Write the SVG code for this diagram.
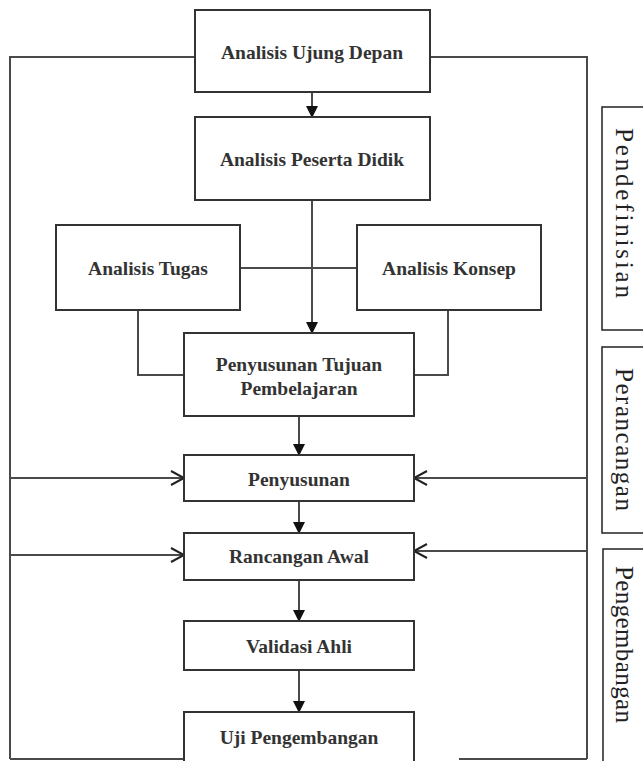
<svg xmlns="http://www.w3.org/2000/svg" width="643" height="761" viewBox="0 0 643 761">
<style>
.box{fill:#fff;stroke:#333;stroke-width:2}
.lbl{font-family:"Liberation Serif","Times New Roman",serif;font-weight:bold;font-size:19.5px;fill:#333;text-anchor:middle}
.side{font-family:"Liberation Serif","Times New Roman",serif;font-size:25px;fill:#222}
.sbox{fill:#fff;stroke:#222;stroke-width:1.5}
.c{fill:none;stroke:#4a4a4a;stroke-width:2}
</style>
<defs>
<marker id="tri" markerUnits="userSpaceOnUse" markerWidth="12" markerHeight="12" viewBox="0 0 12 12" refX="11" refY="6" orient="auto">
<path d="M0,0 L12,6 L0,12 z" fill="#111"/>
</marker>
<marker id="chev" markerUnits="userSpaceOnUse" markerWidth="18" markerHeight="18" viewBox="0 0 18 18" refX="15" refY="9" orient="auto">
<path d="M2,2 L15,9 L2,16" fill="none" stroke="#222" stroke-width="2"/>
</marker>
</defs>
<rect width="643" height="761" fill="#fff"/>
<g id="connectors">
<polyline class="c" points="195,57 10,57 10,759"/>
<polyline class="c" points="430,57 587,57 587,759"/>
<line class="c" x1="10" y1="759" x2="184" y2="759"/>
<line class="c" x1="459" y1="759" x2="587" y2="759"/>
<line class="c" x1="312" y1="92" x2="312" y2="117" marker-end="url(#tri)"/>
<line class="c" x1="312" y1="200" x2="312" y2="333" marker-end="url(#tri)"/>
<line class="c" x1="240" y1="268" x2="357" y2="268"/>
<polyline class="c" points="138,310 138,375 184,375"/>
<polyline class="c" points="448,310 448,375 414,375"/>
<line class="c" x1="299" y1="416" x2="299" y2="455" marker-end="url(#tri)"/>
<line class="c" x1="299" y1="501" x2="299" y2="533" marker-end="url(#tri)"/>
<line class="c" x1="299" y1="580" x2="299" y2="621" marker-end="url(#tri)"/>
<line class="c" x1="299" y1="670" x2="299" y2="712" marker-end="url(#tri)"/>
<line class="c" x1="10" y1="478" x2="184" y2="478" marker-end="url(#chev)"/>
<line class="c" x1="10" y1="555" x2="184" y2="555" marker-end="url(#chev)"/>
<line class="c" x1="587" y1="478" x2="414" y2="478" marker-end="url(#chev)"/>
<line class="c" x1="587" y1="551" x2="414" y2="551" marker-end="url(#chev)"/>
</g>
<g id="n1"><rect class="box" x="195" y="10" width="235" height="82"/><text class="lbl" x="312" y="59">Analisis Ujung Depan</text></g>
<g id="n2"><rect class="box" x="195" y="117" width="235" height="83"/><text class="lbl" x="312" y="166">Analisis Peserta Didik</text></g>
<g id="n3"><rect class="box" x="56" y="225" width="184" height="85"/><text class="lbl" x="148" y="275">Analisis Tugas</text></g>
<g id="n4"><rect class="box" x="357" y="225" width="184" height="85"/><text class="lbl" x="449" y="275">Analisis Konsep</text></g>
<g id="n5"><rect class="box" x="184" y="333" width="230" height="83"/><text class="lbl" x="299" y="371">Penyusunan Tujuan</text><text class="lbl" x="299" y="395">Pembelajaran</text></g>
<g id="n6"><rect class="box" x="184" y="455" width="230" height="46"/><text class="lbl" x="299" y="486">Penyusunan</text></g>
<g id="n7"><rect class="box" x="184" y="533" width="230" height="47"/><text class="lbl" x="299" y="563">Rancangan Awal</text></g>
<g id="n8"><rect class="box" x="184" y="621" width="230" height="49"/><text class="lbl" x="299" y="653">Validasi Ahli</text></g>
<g id="n9"><rect class="box" x="184" y="712" width="230" height="52"/><text class="lbl" x="299" y="744">Uji Pengembangan</text></g>
<g id="s1"><rect class="sbox" x="602" y="107" width="60" height="223"/><text class="side" transform="translate(616,128) rotate(90)" textLength="170" lengthAdjust="spacing">Pendefinisian</text></g>
<g id="s2"><rect class="sbox" x="602" y="347" width="60" height="186"/><text class="side" transform="translate(616,368) rotate(90)" textLength="143" lengthAdjust="spacing">Perancangan</text></g>
<g id="s3"><rect class="sbox" x="603" y="549" width="60" height="230"/><text class="side" transform="translate(616,566) rotate(90)" textLength="157" lengthAdjust="spacing">Pengembangan</text></g>
</svg>
